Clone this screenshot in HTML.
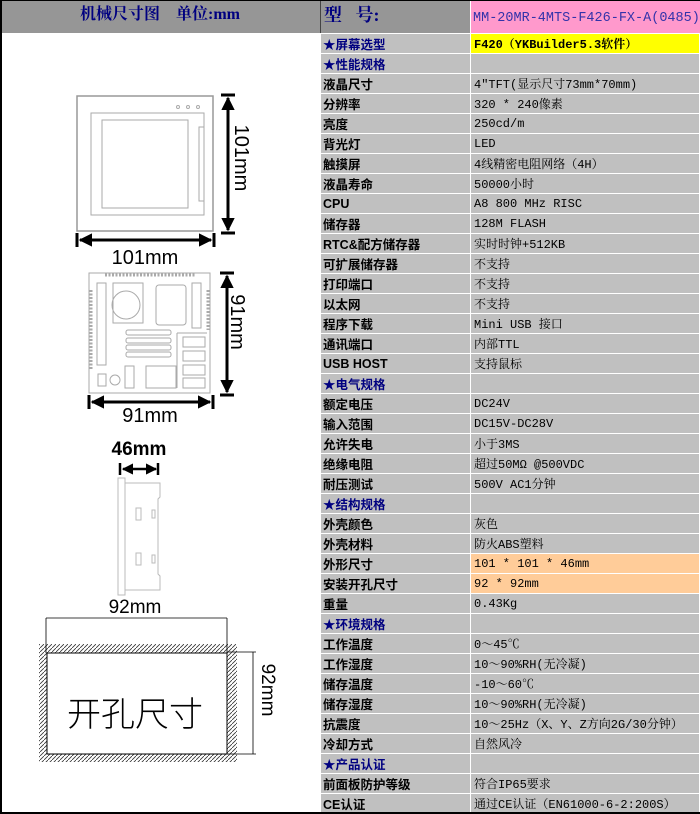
<!DOCTYPE html>
<html><head><meta charset="utf-8"><style>
*{margin:0;padding:0;box-sizing:border-box}
body{width:700px;height:814px;background:#fff;position:relative;overflow:hidden;font-family:"Liberation Mono","Noto Serif CJK SC",monospace}
#hdr{position:absolute;left:0;top:0;width:700px;height:33px;background:#969696;border-top:1px solid #000}
#hl{position:absolute;left:0;top:0;width:320px;height:33px;line-height:33px;padding-left:78px;color:#000080;font:bold 16px "Liberation Serif","Noto Serif CJK SC",serif;border-left:2px solid #000}
#hm{position:absolute;left:320px;top:0;width:150px;height:33px;line-height:35px;padding-left:3px;color:#000080;font:bold 18px "Liberation Serif","Noto Serif CJK SC",serif;border-left:1px solid #444}
#hv{position:absolute;left:470px;top:0;width:230px;height:33px;line-height:35px;background:#ff99cc;color:#3333aa;font-size:13.5px;padding-left:2px;border-left:1px solid #fff}
#lp{position:absolute;left:0;top:33px;width:2px;height:781px;background:#000}
table{position:absolute;left:320px;top:33px;border-collapse:collapse;width:380px}
td{height:20px;background:#c0c0c0;border:1px solid #fff;font-size:12px;padding:0 0 0 3px;white-space:nowrap;overflow:hidden}
td.l{width:150px;font-weight:bold;font-family:"Liberation Sans","Noto Sans CJK SC",sans-serif;font-size:12.5px;padding-left:2px}
td.s{color:#000080}
td.y{background:#ffff00;font-weight:bold}
td.o{background:#ffcc99}
#bot{position:absolute;left:0;top:812px;width:700px;height:2px;background:#000}
svg{position:absolute;left:0;top:0}
</style></head><body>
<div id="hdr"><div id="hl">机械尺寸图&nbsp;&nbsp;&nbsp;&nbsp;单位:mm</div><div id="hm">型&nbsp;&nbsp;&nbsp;号:</div><div id="hv">MM-20MR-4MTS-F426-FX-A(0485)</div></div>
<div id="lp"></div>
<svg width="320" height="814" viewBox="0 0 320 814">
<defs>
<marker id="a" viewBox="0 0 10 10" refX="9" refY="5" markerWidth="4.5" markerHeight="4.5" orient="auto-start-reverse"><path d="M0,0L10,5L0,10z" fill="#000"/></marker>
<pattern id="h" width="4" height="4" patternUnits="userSpaceOnUse"><path d="M0,4L4,0" stroke="#333" stroke-width="0.8"/></pattern>
</defs>
<g fill="none" stroke="#aaa" stroke-width="1">
<rect x="77" y="96" width="136" height="135" stroke="#999" stroke-width="1.5"/>
<rect x="91" y="113" width="113" height="102"/>
<rect x="102" y="120" width="86" height="88"/>
<rect x="199" y="127" width="5" height="74"/>
<circle cx="178" cy="107" r="1.5"/><circle cx="188" cy="107" r="1.5"/><circle cx="198" cy="107" r="1.5"/>
</g>
<g stroke="#000" stroke-width="3">
<line x1="228" y1="98" x2="228" y2="230" marker-start="url(#a)" marker-end="url(#a)"/>
<line x1="221" y1="95" x2="235" y2="95"/><line x1="221" y1="233" x2="235" y2="233"/>
<line x1="80" y1="240" x2="211" y2="240" marker-start="url(#a)" marker-end="url(#a)"/>
<line x1="77" y1="233" x2="77" y2="247"/><line x1="214" y1="233" x2="214" y2="247"/>
</g>
<text x="145" y="264" font-family="Liberation Sans,sans-serif" font-size="20" text-anchor="middle">101mm</text>
<text transform="translate(235,158) rotate(90)" font-family="Liberation Sans,sans-serif" font-size="20" text-anchor="middle">101mm</text>
<g fill="none" stroke="#aaa" stroke-width="1">
<rect x="89" y="273" width="121" height="120"/>
<rect x="97" y="283" width="9" height="82"/>
<rect x="113" y="283" width="30" height="40"/><circle cx="126" cy="305" r="14"/>
<rect x="156" y="285" width="30" height="40" rx="3"/>
<rect x="192" y="283" width="9" height="45"/>
<path d="M177,333H207M177,333V388"/>
<rect x="126" y="330" width="45" height="5" rx="2"/><rect x="126" y="338" width="45" height="5" rx="2"/><rect x="126" y="345" width="45" height="5" rx="2"/><rect x="126" y="352" width="45" height="5" rx="2"/>
<rect x="146" y="366" width="30" height="22"/><rect x="183" y="337" width="22" height="10"/><rect x="183" y="351" width="22" height="10"/><rect x="183" y="365" width="22" height="10"/><rect x="183" y="378" width="22" height="10"/>
<rect x="98" y="374" width="8" height="12"/><circle cx="115" cy="380" r="5"/><rect x="125" y="366" width="9" height="22"/>
<path d="M91,290V370M208,290V330M105,275H195" stroke-dasharray="2,1.5" stroke-width="3"/>
</g>
<g stroke="#000" stroke-width="3">
<line x1="227" y1="276" x2="227" y2="392" marker-start="url(#a)" marker-end="url(#a)"/>
<line x1="220" y1="273" x2="234" y2="273"/><line x1="220" y1="395" x2="234" y2="395"/>
<line x1="92" y1="402" x2="210" y2="402" marker-start="url(#a)" marker-end="url(#a)"/>
<line x1="89" y1="395" x2="89" y2="409"/><line x1="213" y1="395" x2="213" y2="409"/>
</g>
<text x="150" y="422" font-family="Liberation Sans,sans-serif" font-size="20" text-anchor="middle">91mm</text>
<text transform="translate(231,322) rotate(90)" font-family="Liberation Sans,sans-serif" font-size="20" text-anchor="middle">91mm</text>
<text x="139" y="455" font-family="Liberation Sans,sans-serif" font-size="19" font-weight="bold" text-anchor="middle">46mm</text>
<g stroke="#000" stroke-width="2.5">
<line x1="123" y1="469" x2="156" y2="469" marker-start="url(#a)" marker-end="url(#a)"/>
<line x1="120" y1="463" x2="120" y2="475"/><line x1="158" y1="463" x2="158" y2="475"/>
</g>
<g fill="none" stroke="#bbb">
<rect x="118" y="478" width="7" height="117"/>
<path d="M125,483H160V497L158,499V574L160,576V590H125"/>
<rect x="136" y="508" width="5" height="12"/><rect x="152" y="510" width="3" height="8"/>
<rect x="136" y="553" width="5" height="12"/><rect x="152" y="555" width="3" height="8"/>
</g>
<text x="135" y="613" font-family="Liberation Sans,sans-serif" font-size="19" text-anchor="middle">92mm</text>
<rect x="39" y="644" width="198" height="118" fill="url(#h)"/>
<rect x="47" y="653" width="180" height="101" fill="#fff" stroke="#000" stroke-width="1"/>
<g stroke="#000" stroke-width="0.8" fill="none">
<path d="M46,618H227M46,618V653M227,618V653"/>
<path d="M227,652H256M253,652V754M227,754H256"/>
</g>
<text x="135" y="726" font-family="Noto Sans CJK SC,sans-serif" font-size="34" font-weight="300" text-anchor="middle">开孔尺寸</text>
<text transform="translate(262,690) rotate(90)" font-family="Liberation Sans,sans-serif" font-size="19" text-anchor="middle">92mm</text>
</svg>
<table>
<tr><td class="l s">★屏幕选型</td><td class="y">F420（YKBuilder5.3软件）</td></tr>
<tr><td class="l s">★性能规格</td><td></td></tr>
<tr><td class="l">液晶尺寸</td><td>4″TFT(显示尺寸73mm*70mm)</td></tr>
<tr><td class="l">分辨率</td><td>320 * 240像素</td></tr>
<tr><td class="l">亮度</td><td>250cd/m</td></tr>
<tr><td class="l">背光灯</td><td>LED</td></tr>
<tr><td class="l">触摸屏</td><td>4线精密电阻网络（4H）</td></tr>
<tr><td class="l">液晶寿命</td><td>50000小时</td></tr>
<tr><td class="l">CPU</td><td>A8 800 MHz RISC</td></tr>
<tr><td class="l">储存器</td><td>128M FLASH</td></tr>
<tr><td class="l">RTC&amp;配方储存器</td><td>实时时钟+512KB</td></tr>
<tr><td class="l">可扩展储存器</td><td>不支持</td></tr>
<tr><td class="l">打印端口</td><td>不支持</td></tr>
<tr><td class="l">以太网</td><td>不支持</td></tr>
<tr><td class="l">程序下载</td><td>Mini USB 接口</td></tr>
<tr><td class="l">通讯端口</td><td>内部TTL</td></tr>
<tr><td class="l">USB HOST</td><td>支持鼠标</td></tr>
<tr><td class="l s">★电气规格</td><td></td></tr>
<tr><td class="l">额定电压</td><td>DC24V</td></tr>
<tr><td class="l">输入范围</td><td>DC15V-DC28V</td></tr>
<tr><td class="l">允许失电</td><td>小于3MS</td></tr>
<tr><td class="l">绝缘电阻</td><td>超过50MΩ @500VDC</td></tr>
<tr><td class="l">耐压测试</td><td>500V AC1分钟</td></tr>
<tr><td class="l s">★结构规格</td><td></td></tr>
<tr><td class="l">外壳颜色</td><td>灰色</td></tr>
<tr><td class="l">外壳材料</td><td>防火ABS塑料</td></tr>
<tr><td class="l">外形尺寸</td><td class="o">101 * 101 * 46mm</td></tr>
<tr><td class="l">安装开孔尺寸</td><td class="o">92 * 92mm</td></tr>
<tr><td class="l">重量</td><td>0.43Kg</td></tr>
<tr><td class="l s">★环境规格</td><td></td></tr>
<tr><td class="l">工作温度</td><td>0～45℃</td></tr>
<tr><td class="l">工作湿度</td><td>10～90%RH(无冷凝)</td></tr>
<tr><td class="l">储存温度</td><td>-10～60℃</td></tr>
<tr><td class="l">储存湿度</td><td>10～90%RH(无冷凝)</td></tr>
<tr><td class="l">抗震度</td><td>10～25Hz（X、Y、Z方向2G/30分钟）</td></tr>
<tr><td class="l">冷却方式</td><td>自然风冷</td></tr>
<tr><td class="l s">★产品认证</td><td></td></tr>
<tr><td class="l">前面板防护等级</td><td>符合IP65要求</td></tr>
<tr><td class="l">CE认证</td><td>通过CE认证（EN61000-6-2:200S）</td></tr>
</table>
<div id="bot"></div>
</body></html>
